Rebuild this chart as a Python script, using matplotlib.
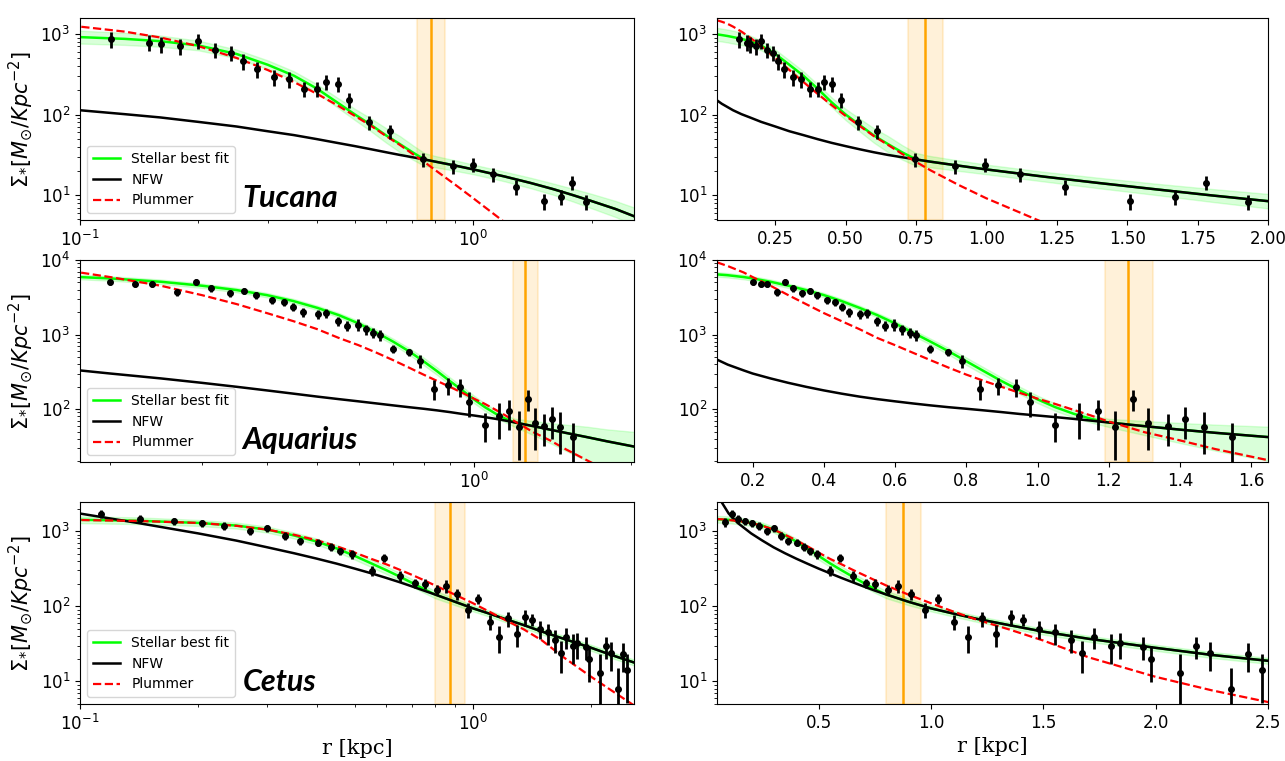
import numpy as np
import matplotlib
matplotlib.use('Agg')
import matplotlib.pyplot as plt
from matplotlib.ticker import NullFormatter

# ---------------- Tucana ----------------
tuc_r = [0.12, 0.15, 0.161, 0.18, 0.20, 0.221, 0.242, 0.26, 0.281, 0.312, 0.34, 0.372, 0.401, 0.422,
         0.452, 0.482, 0.543, 0.613, 0.745, 0.887, 0.996, 1.12, 1.28, 1.51, 1.67, 1.78, 1.93]
tuc_s = [869, 783, 747, 713, 828, 637, 580, 458, 366, 292, 273, 210, 208, 253,
         240, 153, 80, 62, 27.9, 23, 23.8, 18.3, 12.6, 8.4, 9.5, 14.3, 8.3]
tuc_e = [200, 175, 165, 160, 180, 135, 120, 100, 80, 64, 60, 46, 44, 54,
         52, 34, 16, 13, 5.5, 4.6, 4.7, 3.6, 2.6, 1.8, 2.0, 2.8, 1.8]
tuc_grid = [0.043, 0.06, 0.08, 0.1, 0.13, 0.16, 0.2, 0.25, 0.3, 0.35, 0.4, 0.45, 0.5, 0.55,
            0.6, 0.65, 0.7, 0.75, 0.8, 0.9, 1.0, 1.2, 1.4, 1.6, 1.8, 2.0, 2.3, 2.6]
tuc_nfw = [150, 136, 124, 113, 101, 92, 81, 71, 62, 55.5, 49.5, 44.5, 40.5, 37,
           34, 31.5, 29.5, 27.7, 26, 23.2, 20.8, 17.0, 14.1, 11.8, 9.9, 8.4, 6.7, 5.3]
tuc_fit = [990, 970, 945, 915, 870, 815, 720, 565, 415, 303, 210, 142, 100, 74,
           55, 43, 34, 27.7, 26, 23.2, 20.8, 17.0, 14.1, 11.8, 9.9, 8.4, 6.7, 5.3]
tuc_plum = [1480, 1420, 1340, 1235, 1070, 905, 706, 504, 357, 253, 181, 131, 96, 72,
            54, 42, 32.5, 25.8, 20.4, 13.4, 9.1, 4.6, 2.6, 1.6, 1.0, 0.7, 0.4, 0.3]
tuc_band_up = [0.08, 0.08, 0.08, 0.08, 0.075, 0.07, 0.06, 0.055, 0.055, 0.055, 0.055, 0.06, 0.07, 0.08,
               0.09, 0.1, 0.09, 0.08, 0.07, 0.065, 0.06, 0.06, 0.065, 0.07, 0.08, 0.09, 0.1, 0.11]
tuc_band_dn = tuc_band_up
tuc_rt = 0.78
tuc_rt_band = (0.72, 0.845)

# ---------------- Aquarius ----------------
aqu_r = [0.2, 0.223, 0.241, 0.269, 0.292, 0.312, 0.340, 0.362, 0.381, 0.409, 0.431, 0.450, 0.470,
         0.501, 0.520, 0.548, 0.571, 0.598, 0.619, 0.641, 0.660, 0.699, 0.749, 0.789, 0.838, 0.890,
         0.939, 0.978, 1.048, 1.117, 1.169, 1.218, 1.268, 1.309, 1.366, 1.415, 1.466, 1.547]
aqu_s = [5000, 4710, 4750, 3670, 5120, 4160, 3560, 3830, 3350, 2870, 2720, 2330, 1980,
         1880, 1940, 1510, 1320, 1360, 1170, 1060, 980, 649, 578, 447, 188, 208,
         200, 124, 62, 81, 93, 57, 138, 65, 59, 73, 58, 42]
aqu_e = [430, 400, 400, 380, 450, 420, 400, 380, 370, 330, 320, 290, 260,
         250, 260, 210, 200, 260, 180, 170, 160, 80, 60, 90, 55, 55,
         55, 46, 26, 41, 40, 36, 45, 37, 27, 33, 33, 24]
aqu_grid = [0.1, 0.13, 0.175, 0.2, 0.25, 0.3, 0.35, 0.4, 0.45, 0.5, 0.55, 0.6, 0.65, 0.7, 0.75,
            0.8, 0.85, 0.9, 0.95, 1.0, 1.05, 1.1, 1.15, 1.2, 1.3, 1.4, 1.5, 1.65, 1.8, 2.05]
aqu_nfw = [461, 395, 330, 300, 258, 225, 199, 178, 161, 147, 136, 127, 119, 112, 106,
           101, 96, 91, 86, 82, 78, 74, 70, 66, 59, 53, 48, 42, 37, 31]
aqu_fit = [6410, 6250, 5900, 5660, 5110, 4520, 3950, 3380, 2810, 2280, 1820, 1410, 1060, 800, 597,
           438, 321, 236, 178, 135, 106, 87, 74, 66, 59, 53, 48, 42, 37, 31]
aqu_plum = [9300, 8300, 6800, 5900, 4520, 3380, 2560, 1940, 1510, 1180, 900, 720, 570, 452, 360,
            290, 238, 198, 165, 138, 117, 98, 82, 68, 49, 38, 29, 20.5, 15, 9]
aqu_band_up = [0.03, 0.03, 0.03, 0.03, 0.03, 0.03, 0.03, 0.03, 0.03, 0.03, 0.03, 0.035, 0.04, 0.04, 0.045,
               0.05, 0.05, 0.05, 0.05, 0.05, 0.05, 0.05, 0.05, 0.05, 0.07, 0.09, 0.11, 0.14, 0.16, 0.2]
aqu_band_dn = [0.03, 0.03, 0.03, 0.03, 0.03, 0.03, 0.03, 0.03, 0.03, 0.03, 0.03, 0.035, 0.04, 0.04, 0.045,
               0.05, 0.05, 0.05, 0.05, 0.05, 0.05, 0.05, 0.05, 0.06, 0.12, 0.18, 0.24, 0.32, 0.38, 0.45]
aqu_rt = 1.255
aqu_rt_band = (1.19, 1.325)

# ---------------- Cetus ----------------
cet_r = [0.084, 0.113, 0.142, 0.173, 0.204, 0.233, 0.271, 0.30, 0.333, 0.364, 0.404, 0.435, 0.46,
         0.493, 0.553, 0.595, 0.651, 0.713, 0.753, 0.809, 0.855, 0.911, 0.973, 1.031, 1.102, 1.164,
         1.229, 1.291, 1.355, 1.411, 1.482, 1.551, 1.622, 1.671, 1.727, 1.80, 1.84, 1.942, 1.98,
         2.109, 2.18, 2.242, 2.336, 2.409, 2.473]
cet_s = [1318, 1700, 1475, 1360, 1291, 1178, 1000, 1108, 866, 736, 707, 618, 541,
         498, 299, 441, 256, 203, 200, 167, 187, 146, 90, 127, 62, 39,
         69, 43, 71, 66, 50, 45, 36, 24, 39, 30, 32, 29, 19.9,
         13, 29.6, 23.6, 7.9, 23, 14.2]
cet_e = [170, 220, 190, 150, 140, 130, 110, 120, 100, 85, 80, 75, 65,
         70, 43, 57, 43, 30, 30, 27, 35, 25, 20, 20, 14, 15,
         16, 14, 17, 12, 13, 14, 12, 11, 12, 13, 12, 10, 10,
         10, 10, 10, 7, 9.5, 9]
cet_grid = [0.05, 0.07, 0.1, 0.14, 0.2, 0.25, 0.3, 0.35, 0.4, 0.45, 0.5, 0.55, 0.6, 0.65,
            0.7, 0.75, 0.8, 0.9, 1.0, 1.1, 1.2, 1.35, 1.5, 1.7, 2.0, 2.25, 2.6]
cet_nfw = [3200, 2400, 1720, 1290, 935, 750, 610, 510, 432, 370, 318, 276, 240, 210,
           184, 162, 144, 115, 94, 80, 68.5, 56, 46, 37, 28, 22.5, 17.5]
cet_fit = [1440, 1435, 1420, 1380, 1290, 1190, 1050, 880, 730, 590, 470, 375, 305, 250,
           205, 170, 144, 115, 94, 80, 68.5, 56, 46, 37, 28, 22.5, 17.5]
cet_plum = [1450, 1440, 1410, 1370, 1290, 1180, 1050, 900, 760, 630, 520, 430, 365, 308,
            262, 223, 190, 143, 110, 85, 67, 49, 35, 21, 11.5, 7.6, 4.6]
cet_band_up = [0.045, 0.045, 0.045, 0.045, 0.04, 0.04, 0.04, 0.04, 0.04, 0.045, 0.05, 0.05, 0.05, 0.05,
               0.05, 0.05, 0.05, 0.045, 0.04, 0.04, 0.04, 0.04, 0.04, 0.04, 0.04, 0.04, 0.04]
cet_band_dn = cet_band_up
cet_rt = 0.875
cet_rt_band = (0.80, 0.955)

names = ['Tucana', 'Aquarius', 'Cetus']
xlims_log = [(0.1, 2.56), (0.175, 2.03), (0.1, 2.57)]
xlims_lin = [(0.043, 2.0), (0.1, 1.647), (0.048, 2.5)]
ylims = [(4.9, 1580), (19.5, 10000), (5.0, 2450)]

data = [
    (tuc_r, tuc_s, tuc_e, tuc_grid, tuc_nfw, tuc_fit, tuc_plum, tuc_band_up, tuc_band_dn, tuc_rt, tuc_rt_band),
    (aqu_r, aqu_s, aqu_e, aqu_grid, aqu_nfw, aqu_fit, aqu_plum, aqu_band_up, aqu_band_dn, aqu_rt, aqu_rt_band),
    (cet_r, cet_s, cet_e, cet_grid, cet_nfw, cet_fit, cet_plum, cet_band_up, cet_band_dn, cet_rt, cet_rt_band),
]

W, H = 1285, 761
fig = plt.figure(figsize=(W / 100, H / 100), dpi=100)

col_x = [(80, 554), (717, 551)]
row_y = [(18, 202), (260, 202), (502, 202)]

ylabel = r'$\Sigma_{*}[M_{\odot}/Kpc^{-2}]$'

for i in range(3):
    r, s, e, grid, nfw, fit, plum, bup, bdn, rt, rtb = data[i]
    grid = np.array(grid)
    fit = np.array(fit)
    lo = fit / 10 ** np.array(bdn)
    hi = fit * 10 ** np.array(bup)
    for j in range(2):
        x0, w = col_x[j]
        y0, h = row_y[i]
        ax = fig.add_axes([x0 / W, 1 - (y0 + h) / H, w / W, h / H])
        ax.axvspan(rtb[0], rtb[1], color='orange', alpha=0.15, lw=1.5)
        ax.axvline(rt, color='orange', lw=1.8)
        ax.fill_between(grid, lo, hi, color='lime', alpha=0.15, lw=1)
        ax.plot(grid, fit, color='lime', lw=1.8, label='Stellar best fit')
        ax.plot(grid, nfw, color='black', lw=1.8, label='NFW')
        ax.plot(grid, plum, color='red', ls='--', lw=1.6, label='Plummer')
        ax.errorbar(r, s, yerr=e, fmt='o', color='black', ms=4, elinewidth=2, capsize=0, zorder=5)
        ax.set_yscale('log')
        ax.set_ylim(*ylims[i])
        ax.tick_params(labelsize=12)
        if j == 0:
            ax.set_xscale('log')
            ax.set_xlim(*xlims_log[i])
            ax.xaxis.set_minor_formatter(NullFormatter())
            ax.legend(loc='lower left', fontsize=10)
            ax.set_ylabel(ylabel, fontsize=15)
            ax.text(0.293, 0.065, names[i], transform=ax.transAxes, fontsize=22,
                    fontweight='bold', fontstyle='italic', family=['Lato', 'DejaVu Sans'])
        else:
            ax.set_xlim(*xlims_lin[i])
        if i == 2:
            ax.set_xlabel('r [kpc]', fontsize=15, family='DejaVu Serif')

fig.savefig('out.png', dpi=100)
